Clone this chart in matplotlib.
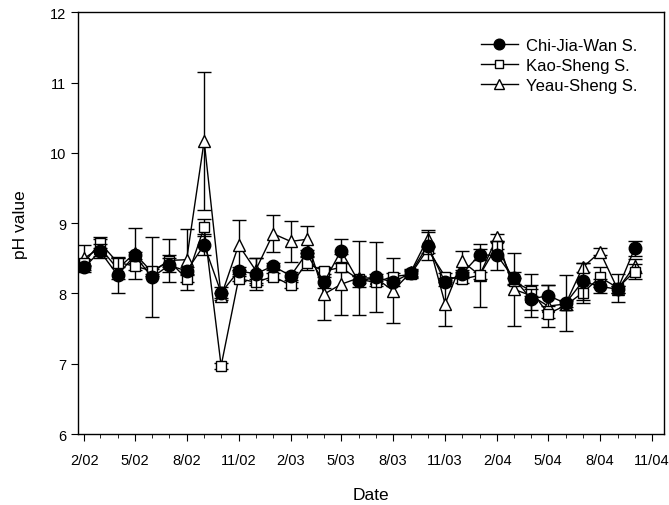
import numpy as np
import pandas as pd
import matplotlib
matplotlib.use("Agg")
import matplotlib.pyplot as plt
import matplotlib.dates as mdates

plt.rcParams["font.family"] = ["Liberation Sans", "DejaVu Sans"]

# monthly sampling, Feb 2002 - Oct 2004
dates = pd.date_range("2002-02-01", "2004-10-01", freq="MS")

chi = [8.37, 8.60, 8.26, 8.54, 8.23, 8.40, 8.32, 8.69, 8.01, 8.32, 8.28,
       8.39, 8.25, 8.57, 8.16, 8.61, 8.17, 8.23, 8.16, 8.29, 8.68, 8.16,
       8.28, 8.55, 8.54, 8.22, 7.92, 7.97, 7.86, 8.17, 8.10, 8.06, 8.64]
chi_err = [0.03, 0.10, 0.26, 0.05, 0.57, 0.10, 0.05, 0.15, 0.08, 0.05, 0.23,
           0.05, 0.06, 0.05, 0.08, 0.17, 0.08, 0.50, 0.06, 0.05, 0.20, 0.06,
           0.06, 0.08, 0.20, 0.08, 0.15, 0.15, 0.40, 0.27, 0.10, 0.05, 0.11]

kao = [8.44, 8.72, 8.44, 8.39, 8.32, 8.46, 8.21, 8.94, 6.97, 8.21, 8.16,
       8.24, 8.12, 8.43, 8.32, 8.37, 8.20, 8.16, 8.24, 8.27, 8.63, 8.24,
       8.20, 8.26, 8.68, 8.17, 8.04, 7.71, 7.83, 8.01, 8.23, 8.08, 8.31]
kao_err = [0.05, 0.08, 0.07, 0.05, 0.05, 0.08, 0.05, 0.12, 0.04, 0.04, 0.04,
           0.05, 0.04, 0.10, 0.05, 0.06, 0.05, 0.05, 0.05, 0.05, 0.05, 0.05,
           0.05, 0.05, 0.05, 0.05, 0.08, 0.06, 0.06, 0.15, 0.14, 0.20, 0.11]

yeau = [8.50, 8.65, 8.35, 8.57, 8.30, 8.47, 8.48, 10.17, 7.96, 8.69, 8.33,
        8.85, 8.74, 8.77, 7.99, 8.13, 8.22, 8.22, 8.04, 8.30, 8.78, 7.85,
        8.46, 8.26, 8.80, 8.06, 7.97, 7.82, 7.85, 8.37, 8.59, 8.06, 8.39]
yeau_err = [0.19, 0.12, 0.15, 0.36, 0.05, 0.31, 0.43, 0.98, 0.05, 0.35, 0.18,
            0.26, 0.29, 0.19, 0.37, 0.43, 0.53, 0.05, 0.46, 0.05, 0.12, 0.31,
            0.15, 0.45, 0.05, 0.52, 0.30, 0.30, 0.05, 0.07, 0.05, 0.05, 0.10]

fig = plt.figure(figsize=(6.69, 5.06), dpi=100)
ax = fig.add_axes([0.1166, 0.1403, 0.876, 0.8334])

common = dict(color="black", lw=1, elinewidth=1, capsize=5, capthick=1)
e3 = ax.errorbar(dates, yeau, yerr=yeau_err, marker="^", ms=8, mfc="white",
                 mec="black", zorder=2, **common)
e2 = ax.errorbar(dates, kao, yerr=kao_err, marker="s", ms=6.5, mfc="white",
                 mec="black", zorder=3, **common)
e1 = ax.errorbar(dates, chi, yerr=chi_err, marker="o", ms=9, mfc="black",
                 mec="black", zorder=4, **common)

ax.set_ylim(6, 12)
ax.set_yticks(range(6, 13))
ax.set_xlim(pd.Timestamp("2002-01-21"), pd.Timestamp("2004-11-22"))
ax.xaxis.set_major_locator(mdates.MonthLocator(bymonth=(2, 5, 8, 11)))
ax.xaxis.set_minor_locator(mdates.MonthLocator())
ax.xaxis.set_major_formatter(
    matplotlib.ticker.FuncFormatter(
        lambda v, pos: "%d/%s" % (mdates.num2date(v).month,
                                  mdates.num2date(v).strftime("%y"))))
ax.tick_params(axis="both", which="major", direction="out", length=5,
               labelsize=10.5, color="black")
ax.tick_params(axis="x", which="major", pad=9)
ax.tick_params(axis="x", which="minor", direction="out", length=3)
for s in ax.spines.values():
    s.set_linewidth(1)

ax.set_xlabel("Date", fontsize=12.5, labelpad=14)
ax.set_ylabel("pH value", fontsize=12.5, labelpad=16)

leg = ax.legend([e1[0], e2[0], e3[0]],
                ["Chi-Jia-Wan S.", "Kao-Sheng S.", "Yeau-Sheng S."],
                loc="upper right", frameon=False, fontsize=12,
                handlelength=2.2, bbox_to_anchor=(0.98, 0.975),
                labelspacing=0.3, handletextpad=0.5)
for hl in leg.legend_handles:
    hl.set_markersize(hl.get_markersize() * 0.85)

fig.savefig("out.png", dpi=100)
